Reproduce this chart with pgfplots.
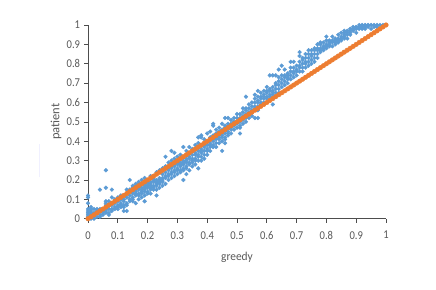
\documentclass[border=0pt]{standalone}
\usepackage{pgfplots}
\usepackage{fontspec}
\setmainfont{Carlito}
\pgfplotsset{compat=1.18}
\definecolor{bluept}{HTML}{5B9BD5}
\definecolor{orpt}{HTML}{ED7D31}
\definecolor{txt}{HTML}{595959}
\definecolor{axl}{HTML}{4D4D4D}
\pgfplotstableread{
x y
0 0
0 .01
0 .02
0 .03
0 .04
0 .05
0 .08
0 .11
0 .12
.01 0
.01 .01
.01 .02
.01 .03
.01 .04
.01 .05
.01 .06
.02 0
.02 .01
.02 .03
.02 .05
.03 .01
.03 .03
.03 .04
.03 .05
.04 .01
.04 .02
.04 .04
.04 .05
.04 .15
.05 .02
.05 .03
.05 .04
.06 .03
.06 .04
.06 .05
.06 .07
.06 .08
.06 .09
.06 .16
.06 .25
.07 .02
.07 .03
.07 .05
.07 .07
.07 .09
.08 .04
.08 .05
.08 .07
.08 .08
.08 .11
.08 .15
.09 .05
.09 .06
.09 .08
.09 .10
.10 .05
.10 .06
.10 .07
.10 .09
.10 .11
.11 .06
.11 .07
.11 .08
.11 .10
.11 .12
.12 .04
.12 .06
.12 .07
.12 .09
.12 .10
.12 .12
.13 .04
.13 .07
.13 .08
.13 .11
.13 .13
.13 .15
.14 .09
.14 .10
.14 .12
.14 .15
.14 .20
.15 .09
.15 .10
.15 .11
.15 .13
.15 .14
.15 .16
.15 .17
.16 .08
.16 .12
.16 .13
.16 .14
.16 .15
.16 .17
.16 .18
.17 .10
.17 .12
.17 .13
.17 .15
.17 .16
.17 .18
.17 .19
.18 .11
.18 .13
.18 .14
.18 .15
.18 .16
.18 .20
.19 .09
.19 .12
.19 .14
.19 .15
.19 .16
.19 .17
.19 .18
.19 .21
.20 .13
.20 .14
.20 .16
.20 .17
.20 .18
.20 .19
.21 .13
.21 .15
.21 .16
.21 .17
.21 .18
.21 .19
.21 .22
.22 .15
.22 .16
.22 .17
.22 .19
.22 .20
.22 .21
.23 .12
.23 .15
.23 .17
.23 .18
.23 .19
.23 .20
.23 .24
.24 .16
.24 .18
.24 .19
.24 .20
.24 .21
.24 .25
.25 .17
.25 .19
.25 .20
.25 .21
.25 .23
.25 .26
.26 .18
.26 .21
.26 .22
.26 .24
.26 .27
.26 .32
.27 .20
.27 .22
.27 .23
.27 .25
.27 .26
.27 .29
.28 .21
.28 .23
.28 .24
.28 .26
.28 .27
.28 .30
.28 .35
.29 .22
.29 .24
.29 .25
.29 .27
.29 .28
.29 .31
.29 .34
.30 .23
.30 .25
.30 .26
.30 .28
.30 .29
.30 .32
.31 .24
.31 .25
.31 .27
.31 .28
.31 .29
.31 .33
.32 .20
.32 .25
.32 .26
.32 .28
.32 .29
.32 .30
.32 .37
.33 .23
.33 .26
.33 .27
.33 .29
.33 .30
.33 .31
.33 .35
.34 .25
.34 .28
.34 .29
.34 .31
.34 .32
.34 .37
.35 .27
.35 .29
.35 .30
.35 .31
.35 .33
.35 .36
.36 .28
.36 .30
.36 .31
.36 .33
.36 .34
.36 .38
.37 .26
.37 .30
.37 .32
.37 .33
.37 .35
.37 .39
.37 .42
.38 .30
.38 .32
.38 .34
.38 .35
.38 .36
.38 .42
.38 .43
.39 .31
.39 .33
.39 .35
.39 .37
.39 .38
.39 .41
.40 .33
.40 .35
.40 .36
.40 .38
.40 .40
.40 .44
.41 .35
.41 .37
.41 .38
.41 .39
.41 .42
.41 .45
.42 .37
.42 .38
.42 .40
.42 .41
.42 .43
.42 .48
.42 .49
.43 .37
.43 .39
.43 .41
.43 .42
.43 .44
.43 .46
.44 .39
.44 .41
.44 .42
.44 .43
.44 .45
.44 .47
.45 .35
.45 .40
.45 .42
.45 .43
.45 .44
.45 .46
.45 .49
.46 .39
.46 .41
.46 .42
.46 .44
.46 .47
.46 .48
.46 .52
.47 .43
.47 .44
.47 .45
.47 .48
.47 .49
.47 .52
.48 .44
.48 .46
.48 .47
.48 .49
.48 .51
.49 .46
.49 .48
.49 .49
.49 .50
.49 .52
.50 .47
.50 .49
.50 .50
.50 .52
.50 .54
.51 .44
.51 .47
.51 .48
.51 .50
.51 .52
.51 .54
.52 .49
.52 .51
.52 .53
.52 .55
.52 .57
.53 .50
.53 .52
.53 .54
.53 .56
.53 .57
.53 .63
.54 .52
.54 .54
.54 .55
.54 .57
.54 .59
.55 .53
.55 .55
.55 .56
.55 .58
.55 .60
.56 .52
.56 .57
.56 .58
.56 .60
.56 .62
.56 .64
.57 .52
.57 .56
.57 .58
.57 .60
.57 .61
.57 .63
.57 .66
.58 .59
.58 .60
.58 .62
.58 .63
.58 .65
.59 .60
.59 .62
.59 .63
.59 .64
.59 .66
.60 .62
.60 .63
.60 .65
.60 .66
.60 .68
.61 .63
.61 .64
.61 .66
.61 .67
.61 .74
.62 .59
.62 .64
.62 .65
.62 .66
.62 .68
.62 .74
.63 .65
.63 .67
.63 .69
.63 .70
.63 .74
.64 .65
.64 .67
.64 .69
.64 .71
.64 .73
.64 .77
.65 .68
.65 .70
.65 .72
.65 .74
.65 .79
.66 .69
.66 .71
.66 .73
.66 .74
.66 .77
.67 .70
.67 .72
.67 .73
.67 .74
.67 .75
.68 .72
.68 .74
.68 .76
.68 .78
.68 .81
.69 .73
.69 .75
.69 .76
.69 .78
.69 .81
.70 .74
.70 .76
.70 .77
.70 .79
.71 .76
.71 .78
.71 .79
.71 .81
.71 .84
.71 .86
.72 .76
.72 .78
.72 .80
.72 .82
.72 .83
.73 .78
.73 .80
.73 .81
.73 .83
.73 .85
.74 .79
.74 .81
.74 .83
.74 .85
.74 .87
.75 .80
.75 .82
.75 .84
.75 .85
.75 .87
.76 .81
.76 .83
.76 .85
.76 .87
.76 .88
.77 .83
.77 .85
.77 .87
.77 .88
.77 .90
.78 .86
.78 .87
.78 .88
.78 .90
.78 .91
.79 .87
.79 .88
.79 .89
.79 .91
.80 .88
.80 .89
.80 .90
.80 .92
.80 .94
.81 .89
.81 .90
.81 .91
.81 .92
.82 .89
.82 .91
.82 .92
.82 .94
.83 .90
.83 .91
.83 .92
.83 .93
.84 .91
.84 .92
.84 .93
.84 .95
.85 .92
.85 .93
.85 .94
.85 .96
.86 .93
.86 .94
.86 .95
.86 .96
.86 .97
.87 .93
.87 .95
.87 .96
.87 .97
.88 .95
.88 .96
.88 .97
.88 .98
.89 .97
.89 .98
.89 .99
.90 .96
.90 .98
.90 .99
.91 .98
.91 .99
.91 1
.92 .98
.92 .99
.92 1
.93 .98
.93 .99
.93 1
.94 .99
.94 1
.95 .98
.95 1
.96 .99
.96 1
.97 .99
.97 1
.98 1
.99 1
1 1
}\bluedata
\pgfplotstableread{
x y
0 0
.01 .01
.02 .02
.03 .03
.04 .04
.05 .05
.06 .06
.07 .07
.08 .08
.09 .09
.10 .10
.11 .11
.12 .12
.13 .13
.14 .14
.15 .15
.16 .16
.17 .17
.18 .18
.19 .19
.20 .20
.21 .21
.22 .22
.23 .23
.24 .24
.25 .25
.26 .26
.27 .27
.28 .28
.29 .29
.30 .30
.31 .31
.32 .32
.33 .33
.34 .34
.35 .35
.36 .36
.37 .37
.38 .38
.39 .39
.40 .40
.41 .41
.42 .42
.43 .43
.44 .44
.45 .45
.46 .46
.47 .47
.48 .48
.49 .49
.50 .50
.51 .51
.52 .52
.53 .53
.54 .54
.55 .55
.56 .56
.57 .57
.58 .58
.59 .59
.60 .60
.61 .61
.62 .62
.63 .63
.64 .64
.65 .65
.66 .66
.67 .67
.68 .68
.69 .69
.70 .70
.71 .71
.72 .72
.73 .73
.74 .74
.75 .75
.76 .76
.77 .77
.78 .78
.79 .79
.80 .80
.81 .81
.82 .82
.83 .83
.84 .84
.85 .85
.86 .86
.87 .87
.88 .88
.89 .89
.90 .90
.91 .91
.92 .92
.93 .93
.94 .94
.95 .95
.96 .96
.97 .97
.98 .98
.99 .99
1 1
}\orangedata
\begin{document}
\begin{tikzpicture}[x=1bp,y=1bp]
\path[fill=white] (0,0) rectangle (436,289);
\draw[color=blue!6,line width=0.7bp] (39.5,112) -- (39.5,145);
\begin{axis}[
  at={(88bp,70.3bp)}, anchor=south west,
  scale only axis, width=298bp, height=193.7bp,
  xmin=0, xmax=1, ymin=0, ymax=1,
  axis lines=left, axis line style={-,color=axl,line width=0.8bp},
  xtick={0,0.1,...,1}, ytick={0,0.1,...,1},
  xticklabels={0,0.1,0.2,0.3,0.4,0.5,0.6,0.7,0.8,0.9,1},
  yticklabels={0,0.1,0.2,0.3,0.4,0.5,0.6,0.7,0.8,0.9,1},
  tick align=outside, tick style={color=axl,line width=0.7bp},
  major tick length=4bp,
  tick label style={font=\fontsize{12bp}{13bp}\selectfont,text=txt,xscale=0.88},
  xticklabel style={yshift=-5bp},
  yticklabel style={xshift=-1bp},
  xlabel={greedy}, ylabel={patient},
  xlabel style={font=\fontsize{12bp}{13bp}\selectfont,text=txt,xscale=0.95,at={(axis description cs:0.5,0)},anchor=center,yshift=-38.5bp},
  ylabel style={font=\fontsize{12.5bp}{13bp}\selectfont,text=txt,at={(axis description cs:0,0.5)},anchor=center,yshift=32bp},
  clip=false,
]
\addplot[only marks,mark=*,mark size=1.9bp,color=bluept,mark options={draw=none,fill=bluept}] table {\bluedata};
\addplot[only marks,mark=*,mark size=2.3bp,color=orpt,mark options={draw=none,fill=orpt}] table {\orangedata};
\end{axis}
\end{tikzpicture}
\end{document}
